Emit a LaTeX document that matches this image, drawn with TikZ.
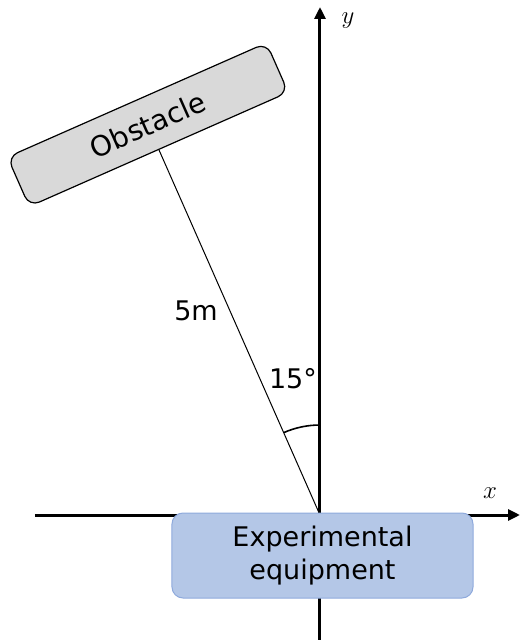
\documentclass[tikz,border=0pt]{standalone}
\usepackage{fontspec}
\setmainfont{DejaVu Sans}
\usetikzlibrary{arrows.meta,positioning}

\definecolor{equipfill}{HTML}{B4C7E7}
\definecolor{equipdraw}{HTML}{8FAADC}
\definecolor{obstfill}{HTML}{D9D9D9}

\tikzset{
	eje/.style={line width=3pt, -{Triangle[length=12pt,width=11pt]}},
	caja/.style={rounded corners=11pt, inner sep=0pt, align=center},
}

\begin{document}
\begin{tikzpicture}[x=1pt, y=1pt, font=\fontsize{27}{33}\selectfont]
\useasboundingbox (-320,-125) rectangle (200,515);

\coordinate (O) at (0,0);

% Ejes
	\draw[eje] (-285,0) -- (200,0);
	\draw[eje] (0,-125) -- (0,508);
	\node[font=\fontsize{24}{24}\selectfont] (xlab) at (170,22) {$x$};
	\node[font=\fontsize{24}{24}\selectfont] (ylab) at (28,494) {$y$};

% Obstaculo
\node[caja, draw, line width=1.2pt, fill=obstfill, minimum width=283pt, minimum height=54pt,
	rotate=23.8, anchor=south, font=\fontsize{28}{33}\selectfont] (obst) at (113.8:399) {Obstacle};
\draw[line width=1pt] (O) -- (obst.south);
\node (dist) at (-124,204) {5m};

% Angulo
\draw[line width=1.6pt] (0,90) arc[start angle=90, end angle=113.8, radius=90];
\node (ang) at (-27,136) {15°};

% Equipo
\node[caja, draw=equipdraw, line width=1pt, fill=equipfill, minimum width=301pt, minimum height=85pt]
	(equip) at (2.5,-40.5) {Experimental\\equipment};
\end{tikzpicture}
\end{document}
